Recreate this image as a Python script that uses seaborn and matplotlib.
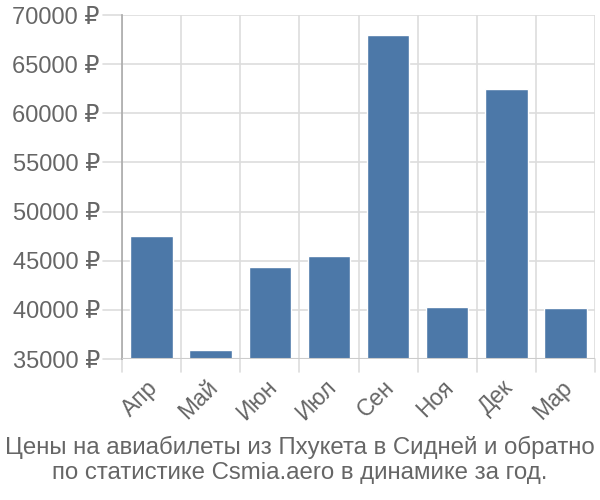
import matplotlib
matplotlib.use("Agg")
import matplotlib.pyplot as plt
import matplotlib.transforms as mtrans
import seaborn as sns
import pandas as pd

months = ["Апр", "Май", "Июн", "Июл", "Сен", "Ноя", "Дек", "Мар"]
prices = [47550, 35920, 44330, 45510, 67960, 40300, 62470, 40230]
yticks = [35000, 40000, 45000, 50000, 55000, 60000, 65000, 70000]
ytick_labels = [f"{v} ₽" for v in yticks]
title = "Цены на авиабилеты из Пхукета в Сидней и обратно\nпо статистике Csmia.aero в динамике за год."

sns.set_theme(style="white")
plt.rcParams['font.family'] = ['Liberation Sans', 'DejaVu Sans']

df = pd.DataFrame({"month": months, "price": prices})

fig = plt.figure(figsize=(6, 5), dpi=100)
ax = fig.add_axes([122/600, 1 - 359/500, (595-122)/600, (359-15)/500])

sns.barplot(data=df, x="month", y="price", color="#4c78a8", width=0.72,
            saturation=1, ax=ax, zorder=3)

ax.set_ylim(35000, 70000)
ax.set_xlim(-0.5, len(months) - 0.5)
ax.set_yticks(yticks)
ax.set_yticklabels(ytick_labels)
ax.set_xlabel("")
ax.set_ylabel("")

# grid lines at category boundaries
for b in [i - 0.5 for i in range(len(months) + 1)]:
    ax.axvline(b, color="#dddddd", lw=1.2, zorder=1)
for v in yticks:
    ax.axhline(v, color="#dddddd", lw=1.2, zorder=1)

for s in ["top", "right", "bottom"]:
    ax.spines[s].set_visible(False)
ax.spines["left"].set_color("#aaaaaa")
ax.spines["left"].set_linewidth(1.2)
ax.axhline(35000, color="#cccccc", lw=1.5, zorder=4)

ax.tick_params(axis="y", length=0, pad=16, labelsize=17, labelcolor="#666666")
ax.tick_params(axis="x", length=0, labelsize=16.5, labelcolor="#666666", pad=12)
offset = mtrans.ScaledTranslation(-5/100, 0, fig.dpi_scale_trans)
for lbl in ax.get_xticklabels():
    lbl.set_rotation(45)
    lbl.set_ha("right")
    lbl.set_rotation_mode("anchor")
    lbl.set_transform(lbl.get_transform() + offset)

# tick extensions below the x axis and left of the y axis
for b in [i - 0.5 for i in range(len(months) + 1)]:
    ax.plot([b, b], [35000, 35000 - 1300], color="#dddddd", lw=1.2, clip_on=False, zorder=1)
x_left = -0.5 - 19/59
for v in yticks:
    ax.plot([x_left, -0.5], [v, v], color="#dddddd", lw=1.2, clip_on=False, zorder=1)

fig.text(0.5, 1 - 460/500, title, ha="center", va="center", fontsize=17.3,
         color="#666666", linespacing=1.15)

fig.savefig("out.png", dpi=100)
